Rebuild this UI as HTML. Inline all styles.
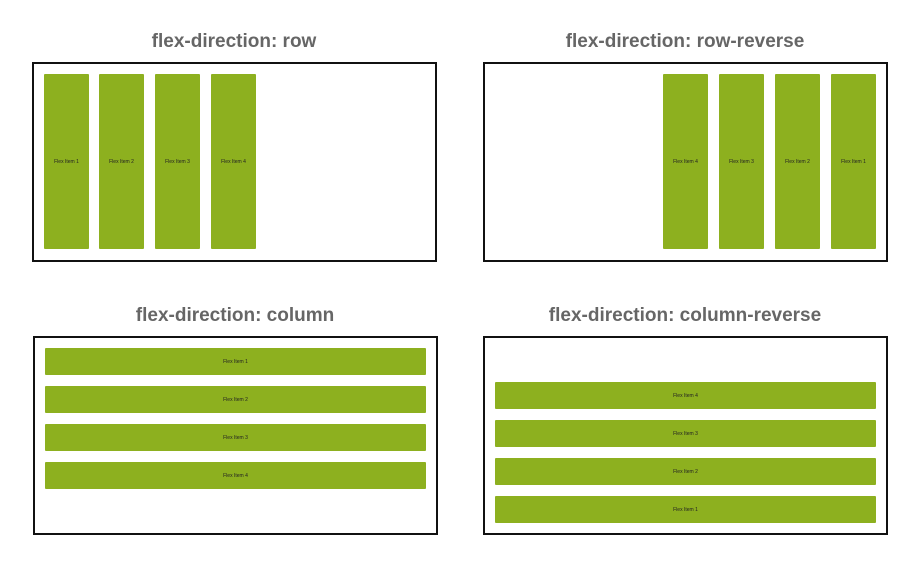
<!DOCTYPE html>
<html><head><style>
body{margin:0;width:920px;height:564px;background:#fff;position:relative;font-family:"Liberation Sans",sans-serif;overflow:hidden}
.t{position:absolute;width:404px;text-align:center;font-size:19px;font-weight:bold;color:#666;letter-spacing:0}
.b{position:absolute;border:2px solid #111;box-sizing:border-box;width:405px;height:200px}
.i{position:absolute;background:#8db01f;border-radius:1px;font-size:5px;color:#222;display:flex;align-items:center;justify-content:center}
</style></head><body>
<div class="t" style="left:32px;top:31px">flex-direction: row</div>
<div class="t" style="left:483px;top:31px">flex-direction: row-reverse</div>
<div class="t" style="left:33px;top:305px">flex-direction: column</div>
<div class="t" style="left:483px;top:305px">flex-direction: column-reverse</div>

<div class="b" style="left:32px;top:62px"></div>
<div class="i" style="left:44px;top:74px;width:45px;height:175px">Flex Item 1</div>
<div class="i" style="left:99px;top:74px;width:45px;height:175px">Flex Item 2</div>
<div class="i" style="left:155px;top:74px;width:45px;height:175px">Flex Item 3</div>
<div class="i" style="left:211px;top:74px;width:45px;height:175px">Flex Item 4</div>

<div class="b" style="left:483px;top:62px"></div>
<div class="i" style="left:663px;top:74px;width:45px;height:175px">Flex Item 4</div>
<div class="i" style="left:719px;top:74px;width:45px;height:175px">Flex Item 3</div>
<div class="i" style="left:775px;top:74px;width:45px;height:175px">Flex Item 2</div>
<div class="i" style="left:831px;top:74px;width:45px;height:175px">Flex Item 1</div>

<div class="b" style="left:33px;top:336px;height:199px"></div>
<div class="i" style="left:45px;top:348px;width:381px;height:27px">Flex Item 1</div>
<div class="i" style="left:45px;top:386px;width:381px;height:27px">Flex Item 2</div>
<div class="i" style="left:45px;top:424px;width:381px;height:27px">Flex Item 3</div>
<div class="i" style="left:45px;top:462px;width:381px;height:27px">Flex Item 4</div>

<div class="b" style="left:483px;top:336px;height:199px"></div>
<div class="i" style="left:495px;top:382px;width:381px;height:27px">Flex Item 4</div>
<div class="i" style="left:495px;top:420px;width:381px;height:27px">Flex Item 3</div>
<div class="i" style="left:495px;top:458px;width:381px;height:27px">Flex Item 2</div>
<div class="i" style="left:495px;top:496px;width:381px;height:27px">Flex Item 1</div>
</body></html>
